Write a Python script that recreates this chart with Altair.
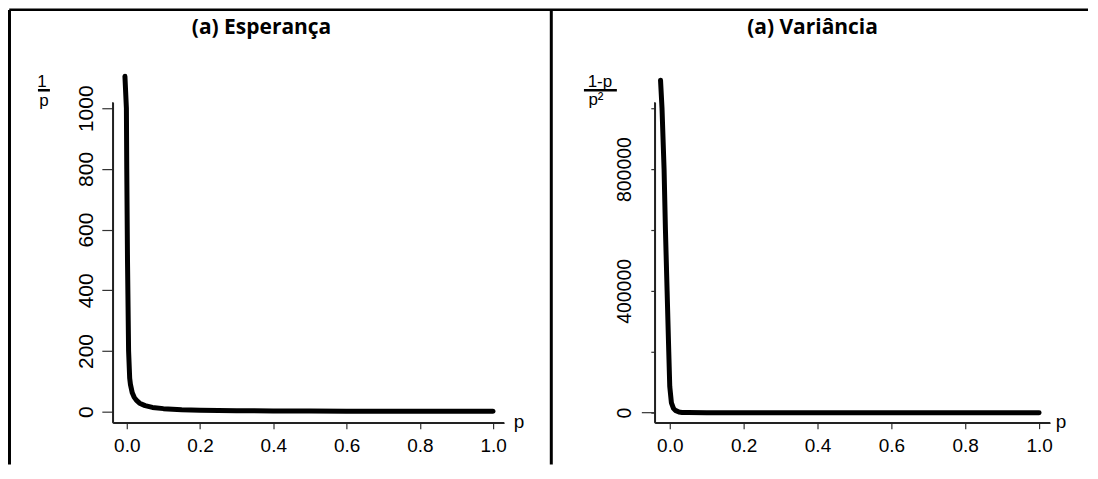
import altair as alt
import pandas as pd

# ---- data ----
p_esp = [-0.005, -0.001, 0.0, 0.002, 0.005, 0.008, 0.01, 0.015, 0.02, 0.026, 0.035,
         0.05, 0.07, 0.1, 0.15, 0.2, 0.3, 0.4, 0.5, 0.6, 0.7, 0.8, 0.9, 1.0]
v_esp = [1105, 1000, 800, 500, 200, 110, 90, 62, 48, 38, 28,
         20, 14, 10, 6.7, 5, 3.3, 2.5, 2, 1.7, 1.4, 1.25, 1.1, 1.0]

p_var = [-0.025, -0.021, -0.0154, -0.0117, -0.0072, -0.0027, 0.0, 0.0045, 0.01, 0.015,
         0.025, 0.033, 0.05, 0.1, 0.2, 0.4, 0.6, 0.8, 1.0]
v_var = [1092000, 1000000, 800000, 600000, 400000, 200000, 86000, 32000, 14000, 7500,
         2000, 880, 380, 90, 20, 4, 1, 0.3, 0]

x_ticks = [0.0, 0.2, 0.4, 0.6, 0.8, 1.0]
y_ticks_esp = [0, 200, 400, 600, 800, 1000]
y_ticks_var = [0, 200000, 400000, 600000, 800000, 1000000]
y_labels_var = [0, 400000, 800000]

title_esp = "(a) Esperança"
title_var = "(a) Variância"

FONT = "Liberation Sans"
dummy = pd.DataFrame({"d": [0]})


def txt(text, x, y, size=17, weight="normal", font=FONT, align="center", baseline="alphabetic"):
    return alt.Chart(dummy).mark_text(
        text=text, font=font, fontSize=size, fontWeight=weight, align=align,
        baseline=baseline, color="black"
    ).encode(x=alt.value(x), y=alt.value(y))


def rule(x, x2, y, y2, w=2.5, color="black"):
    return alt.Chart(dummy).mark_rule(color=color, strokeWidth=w).encode(
        x=alt.value(x), x2=alt.value(x2), y=alt.value(y), y2=alt.value(y2)
    )


def xaxis():
    return alt.Axis(values=x_ticks, format=".1f", title=None, tickSize=6, labelPadding=8,
                    labelFont=FONT, labelFontSize=19, labelColor="black",
                    domain=True, domainColor="#222", tickColor="#333",
                    domainWidth=1.5, tickWidth=1.2, grid=False)


# ---------- panel 1 ----------
W1, H = 392, 321
df1 = pd.DataFrame({"p": p_esp, "v": v_esp})
line1 = alt.Chart(df1).mark_line(
    color="black", strokeWidth=5, strokeCap="round", strokeJoin="round"
).encode(
    x=alt.X("p:Q", scale=alt.Scale(domain=[-0.0381, 1.030], nice=False, zero=False),
            axis=xaxis()),
    y=alt.Y("v:Q", scale=alt.Scale(domain=[-36.2, 1019.7], nice=False, zero=False),
            axis=alt.Axis(values=y_ticks_esp, format="d", title=None, tickSize=11, labelPadding=9,
                          labelAngle=-90, labelAlign="center", labelBaseline="alphabetic",
                          labelFont=FONT, labelFontSize=21, labelColor="black",
                          domain=True, domainColor="#222", tickColor="#333",
                          domainWidth=1.5, tickWidth=1.2, grid=False)),
)

panel1 = alt.layer(
    line1,
    # L-shaped box (bty="l")
    rule(0, 0, 0, H, w=1.5, color="#222"),
    rule(0, W1, H, H, w=1.5, color="#222"),
    txt(title_esp, 149, -74, size=21, weight="bold", font="Open Sans", baseline="middle"),
    txt("1", -71, -15),
    rule(-75, -63, -12, -12),
    txt("p", -69, 4),
    txt("p", 407, 326, size=19),
    # frame lines of the figure
    rule(-103.75, 977, -92.75, -92.75),
    rule(-103.5, -103.5, -92.5, 363, w=3),
    rule(439.3, 439.3, -92.5, 363, w=3),
).properties(width=W1, height=H)

# ---------- panel 2 ----------
W2 = 396
df2 = pd.DataFrame({"p": p_var, "v": v_var})
lab_expr = "indexof([0, 400000, 800000], datum.value) >= 0 ? format(datum.value, 'd') : ''"
line2 = alt.Chart(df2).mark_line(
    color="black", strokeWidth=5, strokeCap="round", strokeJoin="round"
).encode(
    x=alt.X("p:Q", scale=alt.Scale(domain=[-0.0405, 1.0297], nice=False, zero=False),
            axis=xaxis()),
    y=alt.Y("v:Q", scale=alt.Scale(domain=[-32787, 1019672], nice=False, zero=False),
            axis=alt.Axis(values=y_ticks_var, labelExpr=lab_expr, title=None, tickSize=4,
                          labelPadding=20, labelAngle=-90, labelAlign="center",
                          labelBaseline="alphabetic",
                          labelFont=FONT, labelFontSize=19.5, labelColor="black",
                          domain=True, domainColor="#222", tickColor="#333",
                          domainWidth=1.5, tickWidth=1.2, grid=False)),
)
zero_tick = alt.Chart(pd.DataFrame({"v": [0]})).mark_rule(color="#333", strokeWidth=1.2).encode(
    y=alt.Y("v:Q"), x=alt.value(-13), x2=alt.value(0)
)

panel2 = alt.layer(
    line2,
    zero_tick,
    rule(0, 0, 0, H, w=1.5, color="#222"),
    rule(0, W2, H, H, w=1.5, color="#222"),
    txt(title_var, 158, -74, size=21, weight="bold", font="Open Sans", baseline="middle"),
    txt("1-p", -55, -15),
    rule(-71, -38, -12, -12),
    txt("p²", -59, 3),
    txt("p", 407, 326, size=19),
).properties(width=W2, height=H)

chart = alt.hconcat(panel1, panel2, spacing=151, bounds="flush").properties(
    padding=0, background="white"
).configure_view(stroke=None)

chart.save("out.html", embed_options={"renderer": "svg", "actions": False})
